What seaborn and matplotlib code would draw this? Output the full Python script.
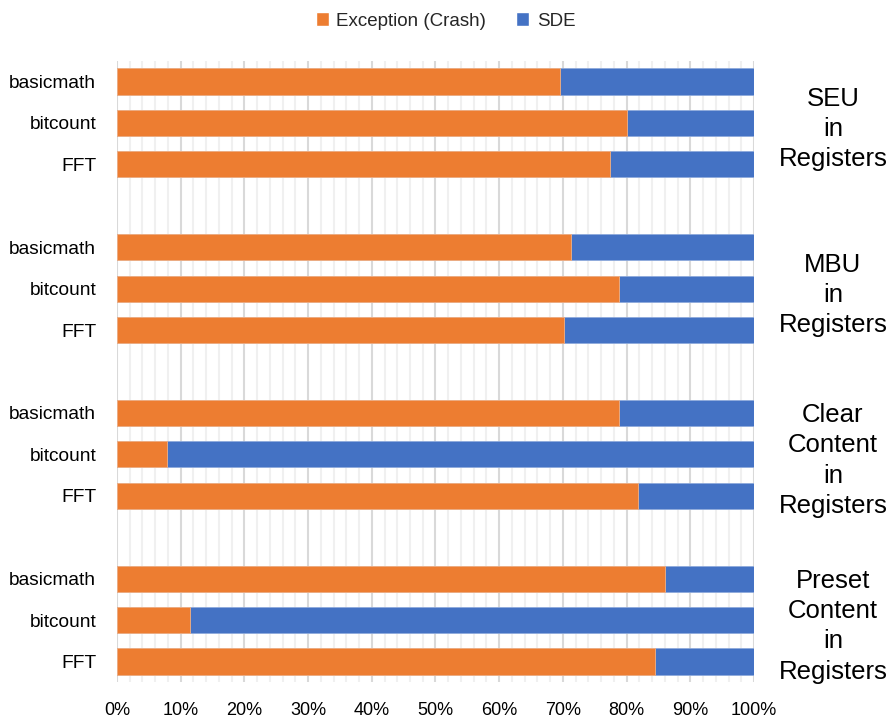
import numpy as np
import pandas as pd
import matplotlib
matplotlib.use("Agg")
import matplotlib.pyplot as plt
import matplotlib.transforms as mtransforms
from matplotlib.patches import Patch
import seaborn as sns

groups = ["SEU\nin\nRegisters", "MBU\nin\nRegisters",
          "Clear\nContent\nin\nRegisters", "Preset\nContent\nin\nRegisters"]
benchmarks = ["basicmath", "bitcount", "FFT"]
crash = [69.6, 80.1, 77.4,
         71.3, 78.8, 70.2,
         78.8, 7.9, 81.8,
         86.0, 11.5, 84.5]
sde = [30.4, 19.9, 22.6,
       28.7, 21.2, 29.8,
       21.2, 92.1, 18.2,
       14.0, 88.5, 15.5]
xtick_vals = list(range(0, 101, 10))
xtick_labels = [f"{v}%" for v in xtick_vals]

ORANGE = "#ED7D31"
BLUE = "#4472C4"

sns.set_theme(style="white")
plt.rcParams["font.family"] = ["Liberation Sans", "DejaVu Sans"]

rows = []
for gi, g in enumerate(groups):
    for bi, b in enumerate(benchmarks):
        k = gi * 3 + bi
        rows.append({"group": g, "bench": b, "pos": gi * 4 + bi,
                     "crash": crash[k], "sde": sde[k],
                     "total": crash[k] + sde[k]})
df = pd.DataFrame(rows)

fig = plt.figure(figsize=(8.91, 7.20), dpi=100)
ax = fig.add_axes([117 / 891, 1 - 682.2 / 720, 637 / 891, (682.2 - 60.8) / 720])

sns.barplot(data=df, x="total", y="pos", orient="h", native_scale=True,
            color=BLUE, width=0.63, errorbar=None, ax=ax, saturation=1,
            linewidth=0.6, edgecolor="#8faadc")
sns.barplot(data=df, x="crash", y="pos", orient="h", native_scale=True,
            color=ORANGE, width=0.63, errorbar=None, ax=ax, saturation=1,
            linewidth=0.6, edgecolor="#f4b183")

ax.set_xlim(0, 100)
ax.set_ylim(14.5, -0.5)
ax.set_xticks(xtick_vals)
ax.set_xticklabels(xtick_labels, fontsize=13, color="#000000")
ax.set_xticks(np.arange(0, 101, 2), minor=True)
ax.set_yticks(df["pos"].tolist())
ax.set_yticklabels(df["bench"].tolist(), fontsize=13.8, color="#000000")
ax.tick_params(axis="both", which="both", length=0)
ax.tick_params(axis="y", pad=15)
ax.tick_params(axis="x", pad=14)
ax.grid(which="major", axis="x", color="#d9d9d9", lw=1.5)
ax.grid(which="minor", axis="x", color="#f0f0f0", lw=1.5)
ax.grid(False, axis="y")
ax.set_axisbelow(True)
for s in ax.spines.values():
    s.set_visible(False)
ax.set_xlabel("")
ax.set_ylabel("")

trans = mtransforms.blended_transform_factory(ax.transAxes, ax.transData)
for gi, g in enumerate(groups):
    ax.text((833 - 117) / 637, gi * 4 + 1.15, g, transform=trans, ha="center",
            va="center", fontsize=18.5, linespacing=1.33, color="#000000")

handles = [Patch(facecolor=ORANGE, label="Exception (Crash)"),
           Patch(facecolor=BLUE, label="SDE")]
fig.legend(handles=handles, loc="center", bbox_to_anchor=(0.5, 1 - 21 / 720),
           ncol=2, frameon=False, fontsize=13.5, handlelength=0.7, handleheight=0.7,
           handletextpad=0.4, columnspacing=1.6)

fig.savefig("out.png", dpi=100)
